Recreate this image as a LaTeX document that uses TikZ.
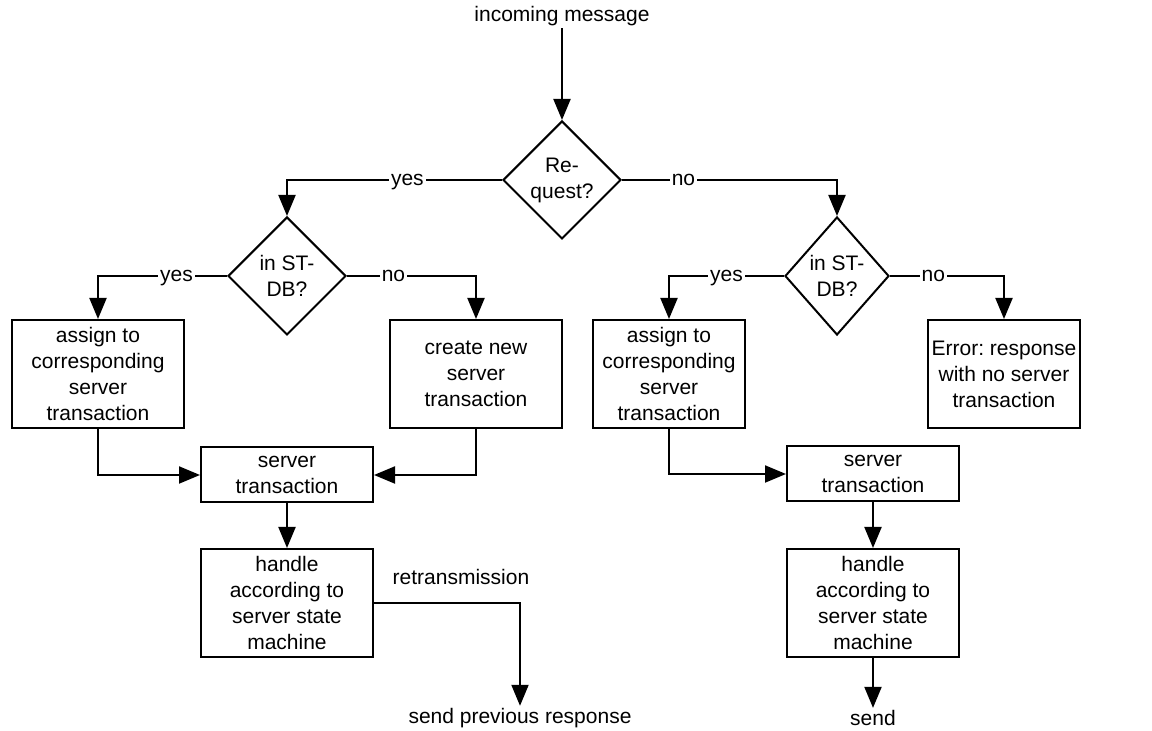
\documentclass[tikz,border=0pt]{standalone}
\usepackage{fontspec}
\setmainfont{Liberation Sans}
\usetikzlibrary{shapes.geometric,arrows.meta}
\frenchspacing
\begin{document}
\begin{tikzpicture}[x=0.5pt,y=-0.5pt,
  every node/.style={font=\fontsize{10.5}{13}\selectfont, align=center},
  stepbox/.style={draw, line width=1pt, inner sep=0pt, minimum width=86pt, minimum height=54pt},
  smallbox/.style={draw, line width=1pt, inner sep=0pt, minimum width=86pt, minimum height=27.5pt},
  decision/.style={draw, diamond, line width=1pt, inner sep=0pt, minimum width=59pt, minimum height=59pt},
  plain/.style={inner sep=1pt},
  lab/.style={fill=white, inner sep=1pt, text height=1.3ex, text depth=0.3ex},
  arr/.style={line width=1pt, -{Triangle[length=10.5pt, width=8.5pt]}},
  link/.style={line width=1pt}]
\useasboundingbox (0,0) rectangle (1152,731);

% start and request test
\node[plain] (msg) at (562,16) {incoming message};
\node[decision] (req) at (562,180) {Re-\\quest?};

% request branch
\node[decision] (db1) at (287,276) {in ST-\\DB?};
\node[stepbox] (a1) at (98,374) {assign to\\corresponding\\server\\transaction};
\node[stepbox] (new) at (476,374) {create new\\server\\transaction};
\node[smallbox] (st1) at (287,475) {server\\transaction};
\node[stepbox] (h1) at (287,603) {handle\\according to\\server state\\machine};
\node[plain] (retx) at (461,577) {retransmission};
\node[plain] (prev) at (520,718) {send previous response};

% response branch
\node[decision, minimum width=52pt] (db2) at (837,276) {in ST-\\DB?};
\node[stepbox, minimum width=76pt] (a2) at (669,374) {assign to\\corresponding\\server\\transaction};
\node[stepbox, minimum width=76pt] (err) at (1004,374) {Error: response\\with no server\\transaction};
\node[smallbox] (st2) at (873,474) {server\\transaction};
\node[stepbox] (h2) at (873,603) {handle\\according to\\server state\\machine};
\node[plain] (send) at (873,718) {send};

% connectors
\draw[arr] (msg) -- (req.north);
\draw[arr] (req.west) -| node[lab, pos=0.22] {yes} (db1.north);
\draw[arr] (req.east) -| node[lab, pos=0.143] {no} (db2.north);

\draw[arr] (db1.west) -| node[lab, pos=0.196] {yes} (a1.north);
\draw[arr] (db1.east) -| node[lab, pos=0.18] {no} (new.north);
\draw[arr] (a1.south) |- (st1.west);
\draw[arr] (new.south) |- (st1.east);
\draw[arr] (st1) -- (h1);
\draw[arr] (h1.east) -| (prev.north);

\draw[arr] (db2.west) -| node[lab, pos=0.25] {yes} (a2.north);
\draw[arr] (db2.east) -| node[lab, pos=0.19] {no} (err.north);
\draw[arr] (a2.south) |- (st2.west);
\draw[arr] (st2) -- (h2);
\draw[arr] (h2) -- (send.north);
\end{tikzpicture}
\end{document}
